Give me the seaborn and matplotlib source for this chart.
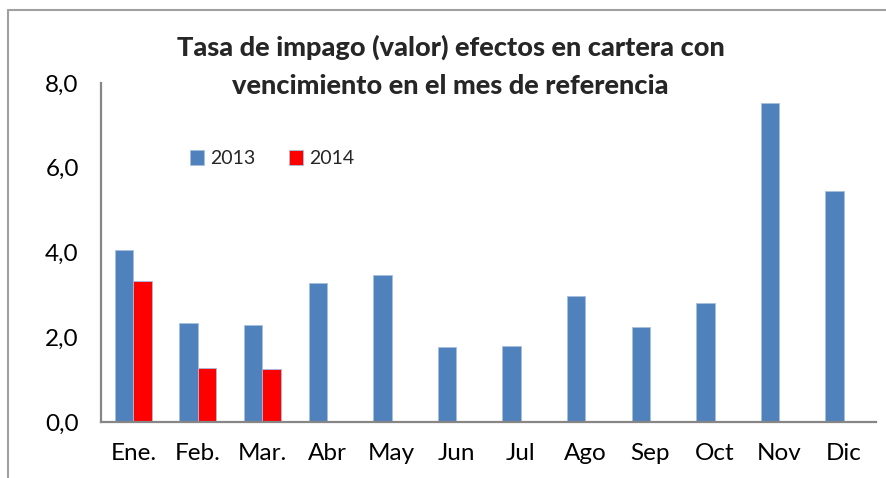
import matplotlib
matplotlib.use("Agg")
import matplotlib.pyplot as plt
from matplotlib.lines import Line2D
import pandas as pd
import seaborn as sns

# Datos
meses = ["Ene.", "Feb.", "Mar.", "Abr", "May", "Jun", "Jul", "Ago", "Sep", "Oct", "Nov", "Dic"]
tasa_2013 = [4.05, 2.33, 2.28, 3.27, 3.48, 1.78, 1.80, 2.98, 2.23, 2.81, 7.53, 5.45]
meses_2014 = ["Ene.", "Feb.", "Mar."]
tasa_2014 = [3.32, 1.28, 1.25]
y_ticks = [0, 2, 4, 6, 8]

df = pd.concat([
    pd.DataFrame({"mes": meses, "tasa": tasa_2013, "anio": "2013"}),
    pd.DataFrame({"mes": meses_2014, "tasa": tasa_2014, "anio": "2014"}),
])

sns.set_style("white")
plt.rcParams["font.family"] = ["Lato", "DejaVu Sans"]

fig = plt.figure(figsize=(8.87, 4.78), dpi=100)
ax = fig.add_axes([0.1139, 0.1172, 0.8737, 0.7092])

sns.barplot(data=df, x="mes", y="tasa", hue="anio", order=meses,
            hue_order=["2013", "2014"], palette=["#4F81BD", "#FF0000"], saturation=1,
            width=0.57, errorbar=None, edgecolor="#A7BFDE", linewidth=0.6, ax=ax)

ax.set_ylim(0, 8)
ax.set_xlim(-0.5, len(meses) - 0.5)
ax.set_yticks(y_ticks)
ax.set_yticklabels([f"{v:.1f}".replace(".", ",") for v in y_ticks])
ax.tick_params(axis="both", length=0, labelsize=17.5, colors="#000000")
ax.tick_params(axis="y", pad=16)
ax.tick_params(axis="x", pad=15)
ax.set_xlabel("")
ax.set_ylabel("")

for s in ["top", "right"]:
    ax.spines[s].set_visible(False)
for s in ["left", "bottom"]:
    ax.spines[s].set_color("#868686")
    ax.spines[s].set_linewidth(1.6)

fig.text(0.508, 0.861, "Tasa de impago (valor) efectos en cartera con\nvencimiento en el mes de referencia",
         ha="center", va="center", fontsize=19.5, fontweight="black", linespacing=1.7)

ax.legend(loc="center left", bbox_to_anchor=(0.214, 0.668), bbox_transform=fig.transFigure,
          ncol=2, frameon=False, fontsize=14, handlelength=0.75, handleheight=0.75,
          handletextpad=0.3, columnspacing=1.7, borderaxespad=0, borderpad=0)

# marco del área del gráfico
fig.add_artist(Line2D([8 / 887, 1], [1 - 10 / 478, 1 - 10 / 478], color="#A0A0A0", lw=1.5))
fig.add_artist(Line2D([8 / 887, 8 / 887], [0, 1 - 10 / 478], color="#A0A0A0", lw=1.5))

fig.savefig("out.png", dpi=100)
